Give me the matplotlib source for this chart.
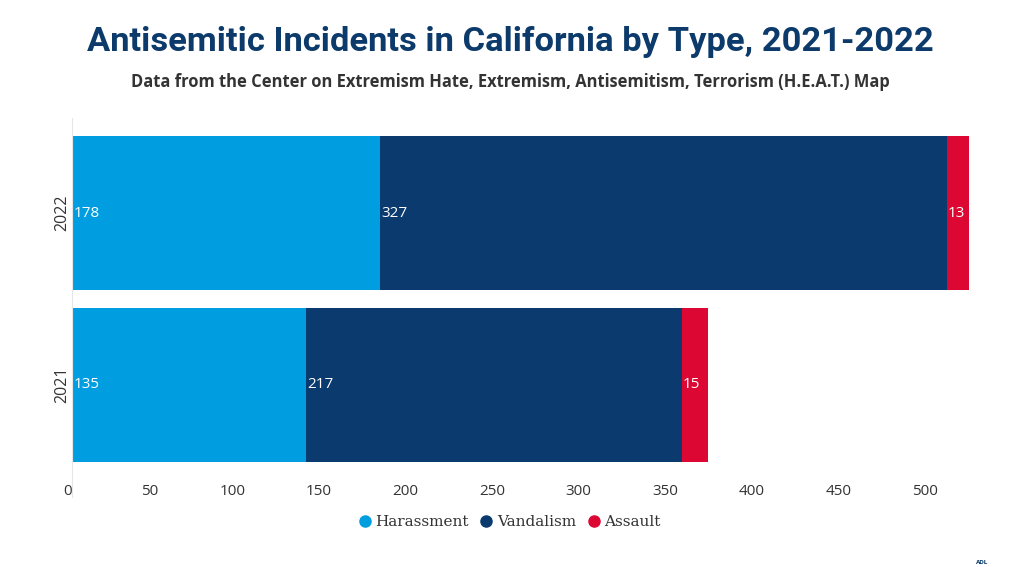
import matplotlib.pyplot as plt
from matplotlib.lines import Line2D

# data
years = ['2021', '2022']
types = ['Harassment', 'Vandalism', 'Assault']
harassment = [135, 178]
vandalism = [217, 327]
assault = [15, 13]
colors = ['#009ee0', '#0a3a6e', '#dc0732']
xticks = [0, 50, 100, 150, 200, 250, 300, 350, 400, 450, 500]

fig = plt.figure(figsize=(10.2, 5.67), dpi=100)
ax = fig.add_axes([72 / 1020, 1 - 480 / 567, (990 - 72) / 1020, (480 - 118) / 567])

series = [harassment, vandalism, assault]
left = [0] * len(years)
for name, vals, c in zip(types, series, colors):
    bars = ax.barh(years, vals, left=left, height=0.895, color=c, label=name)
    for b, v, l in zip(bars, vals, left):
        ax.text(l + 0.8, b.get_y() + b.get_height() / 2, str(v), color='white',
                fontsize=11, family='Open Sans', ha='left', va='center')
    left = [a + b for a, b in zip(left, vals)]

ax.set_xlim(0, 530)
ax.set_ylim(-0.553, 1.553)
ax.set_xticks(xticks)
ax.set_xticklabels([str(t) for t in xticks], ha='right', family='Open Sans',
                   fontsize=11, color='#333333')
ax.tick_params(axis='x', length=0, pad=3)
ax.tick_params(axis='y', length=0, pad=1)
for lab in ax.get_yticklabels():
    lab.set_rotation(90)
    lab.set_va('center')
    lab.set_family('Open Sans')
    lab.set_fontsize(11.5)
    lab.set_color('#333333')
for s in ['top', 'right', 'bottom']:
    ax.spines[s].set_visible(False)
ax.spines['left'].set_color('#e6e6e6')
ax.spines['left'].set_bounds(-0.65, 1.553)
ax.spines['left'].set_clip_on(False)

fig.text(0.5, 1 - 42 / 567, 'Antisemitic Incidents in California by Type, 2021-2022',
         ha='center', va='center', fontsize=24.8, fontweight='bold', color='#0b3a6b',
         family='Roboto')
fig.text(0.5, 1 - 82 / 567,
         'Data from the Center on Extremism Hate, Extremism, Antisemitism, Terrorism (H.E.A.T.) Map',
         ha='center', va='center', fontsize=11.9, fontweight='bold', color='#333333',
         family='Open Sans')

handles = [Line2D([], [], marker='o', ls='none', color=c, markersize=8) for c in colors]
leg = fig.legend(handles, types, loc='center',
                 bbox_to_anchor=(0.5, 1 - 522 / 567), ncol=3, frameon=False,
                 prop={'family': 'DejaVu Serif', 'size': 11}, handlelength=0.7,
                 handletextpad=0.35, columnspacing=0.8)
for t in leg.get_texts():
    t.set_color('#333333')

fig.text(982 / 1020, 1 - 562 / 567, 'ADL', fontsize=4, fontweight='bold',
         color='#0b3a6b', ha='center', va='center')

fig.savefig('out.png', dpi=100)
